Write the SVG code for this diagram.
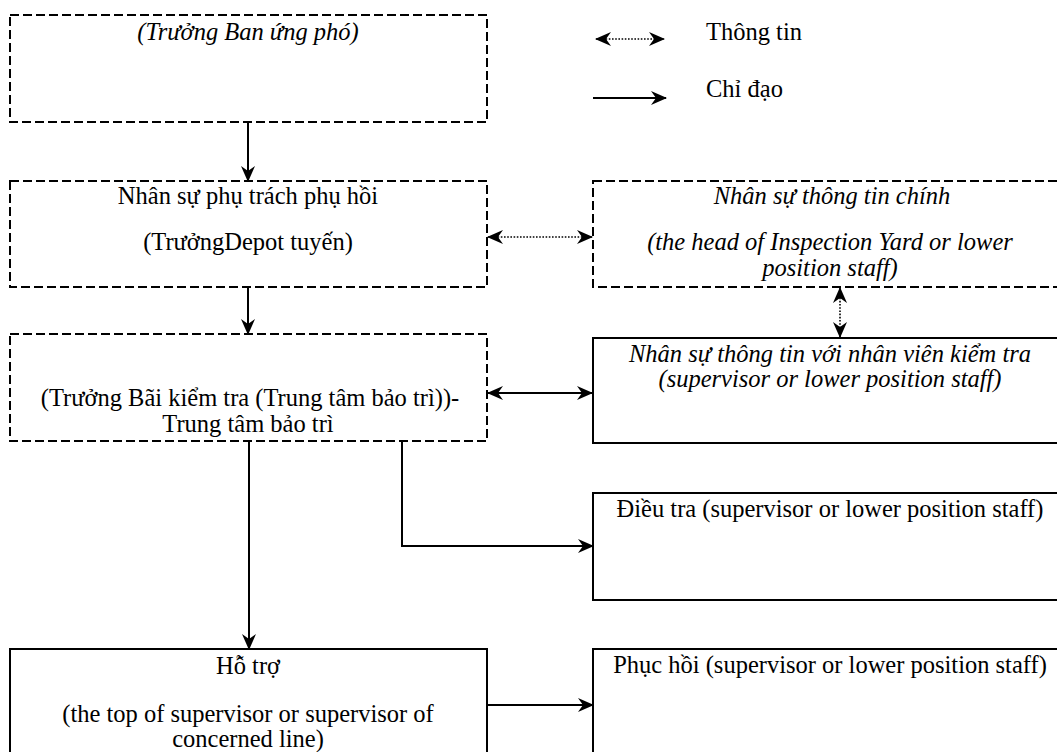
<svg xmlns="http://www.w3.org/2000/svg" width="1057" height="752" viewBox="0 0 1057 752">
  <style>
    .box { fill: #ffffff; stroke: #000000; stroke-width: 2; }
    .dash { stroke-dasharray: 9 4; }
    .t { font-family: "Liberation Serif", "Times New Roman", serif; font-size: 24.5px; fill: #000000; text-anchor: middle; }
    .i { font-style: italic; }
    .lbl { text-anchor: start; }
    .solid { fill: none; stroke: #000000; stroke-width: 2; }
    .dot { fill: none; stroke: #000000; stroke-width: 1.6; stroke-dasharray: 1.6 1.6; }
  </style>
  <defs>
    <marker id="head" viewBox="0 0 16 14" refX="15" refY="7" markerWidth="16" markerHeight="14" markerUnits="userSpaceOnUse" orient="auto-start-reverse">
      <path d="M0,0 L16,7 L0,14 L5,7 Z" fill="#000000"/>
    </marker>
  </defs>
  <rect width="1057" height="752" fill="#ffffff"/>

  <!-- legend -->
  <g id="legend">
    <line class="dot" x1="596" y1="39" x2="664" y2="39" marker-start="url(#head)" marker-end="url(#head)"/>
    <text class="t lbl" x="706" y="40">Thông tin</text>
    <line class="solid" x1="593" y1="98" x2="666" y2="98" marker-end="url(#head)"/>
    <text class="t lbl" x="706" y="97">Chỉ đạo</text>
  </g>

  <!-- connectors -->
  <g id="connectors">
    <line class="solid" x1="248" y1="122" x2="248" y2="181" marker-end="url(#head)"/>
    <line class="solid" x1="248" y1="287" x2="248" y2="334" marker-end="url(#head)"/>
    <line class="dot" x1="488" y1="237" x2="592" y2="237" marker-start="url(#head)" marker-end="url(#head)"/>
    <line class="dot" x1="840" y1="288" x2="840" y2="337" marker-start="url(#head)" marker-end="url(#head)"/>
    <line class="solid" x1="488" y1="393" x2="592" y2="393" marker-start="url(#head)" marker-end="url(#head)"/>
    <line class="solid" x1="249" y1="441" x2="249" y2="649" marker-end="url(#head)"/>
    <polyline class="solid" points="402,441 402,546 593,546" marker-end="url(#head)"/>
    <line class="solid" x1="487" y1="705" x2="593" y2="705" marker-end="url(#head)"/>
  </g>

  <!-- response head -->
  <g id="n-head">
    <rect class="box dash" x="10" y="15" width="477" height="107"/>
    <text class="t i" x="248" y="40">(Trưởng Ban ứng phó)</text>
  </g>

  <!-- recovery lead -->
  <g id="n-recovery-lead">
    <rect class="box dash" x="10" y="181" width="477" height="106"/>
    <text class="t" x="248" y="204">Nhân sự phụ trách phụ hồi</text>
    <text class="t" x="248" y="250">(TrưởngDepot tuyến)</text>
  </g>

  <!-- main information contact -->
  <g id="n-info-main">
    <rect class="box dash" x="593" y="181" width="474" height="106"/>
    <text class="t i" x="832" y="204">Nhân sự thông tin chính</text>
    <text class="t i" x="830" y="250">(the head of Inspection Yard or lower</text>
    <text class="t i" x="830" y="276">position staff)</text>
  </g>

  <!-- inspection yard head -->
  <g id="n-yard-head">
    <rect class="box dash" x="10" y="334" width="477" height="107"/>
    <text class="t" x="250" y="406">(Trưởng Bãi kiểm tra (Trung tâm bảo trì))-</text>
    <text class="t" x="248" y="432">Trung tâm bảo trì</text>
  </g>

  <!-- information contact for inspectors -->
  <g id="n-info-inspect">
    <rect class="box" x="593" y="338" width="474" height="105"/>
    <text class="t i" x="830" y="362">Nhân sự thông tin với nhân viên kiểm tra</text>
    <text class="t i" x="830" y="387">(supervisor or lower position staff)</text>
  </g>

  <!-- investigation -->
  <g id="n-investigate">
    <rect class="box" x="593" y="493" width="474" height="107"/>
    <text class="t" x="830" y="517">Điều tra (supervisor or lower position staff)</text>
  </g>

  <!-- support -->
  <g id="n-support">
    <rect class="box" x="10" y="649" width="477" height="115"/>
    <text class="t" x="248" y="674">Hỗ trợ</text>
    <text class="t" x="248" y="722">(the top of supervisor or supervisor of</text>
    <text class="t" x="248" y="747">concerned line)</text>
  </g>

  <!-- recovery -->
  <g id="n-recover">
    <rect class="box" x="593" y="649" width="474" height="115"/>
    <text class="t" x="830" y="673">Phục hồi (supervisor or lower position staff)</text>
  </g>
</svg>
